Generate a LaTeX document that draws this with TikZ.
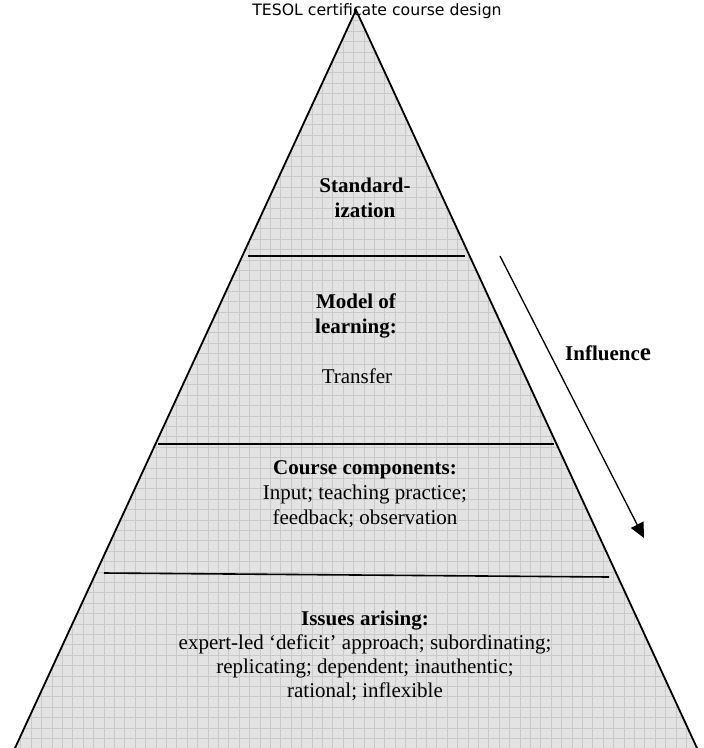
\documentclass[tikz,border=0pt]{standalone}
\usepackage{fontspec}
\setmainfont{Liberation Serif}
\newfontfamily\titlefont{DejaVu Sans}
\usetikzlibrary{arrows.meta}
\definecolor{paper}{HTML}{E3E3E3}
\definecolor{gridline}{HTML}{C9C9C9}

\begin{document}
\begin{tikzpicture}[x=1pt,y=-1pt,
  tier/.style={line width=1.6pt},
  tiertext/.style={font=\fontsize{21}{25}\selectfont,align=center,anchor=base,inner sep=0pt},
  tierhead/.style={tiertext,font=\bfseries\fontsize{21}{25}\selectfont}]
\useasboundingbox (0,0) rectangle (704,748);
\coordinate (apex) at (356,10);
\coordinate (baseleft) at (10.4,758);
\coordinate (baseright) at (701.6,758);
% shaded pyramid with grid
\begin{scope}
  \clip (apex) -- (baseright) -- (baseleft) -- cycle;
  \fill[paper] (0,0) rectangle (704,758);
  \draw[gridline,line width=0.8pt,xstep=10.4pt,ystep=10.4pt] (0,0) grid (704,758);
\end{scope}
\draw[line width=1.8pt] (baseleft) -- (apex) -- (baseright);
% tier lines
\coordinate (t1l) at (248,256); \coordinate (t1r) at (465,256);
\coordinate (t2l) at (158,444); \coordinate (t2r) at (554,444);
\coordinate (t3l) at (104,573); \coordinate (t3r) at (609,577);
\draw[tier] (t1l) -- (t1r);
\draw[tier] (t2l) -- (t2r);
\draw[tier] (t3l) -- (t3r);
% texts (placed at the baseline of their last line)
\node[anchor=base,inner sep=0pt,font=\titlefont\fontsize{15.7}{18}\selectfont] (title) at (377,15) {TESOL certificate course design};
\node[tierhead] (std) at (365,217) {Standard-\\ization};
\node[tierhead] (model) at (356,333) {Model of\\learning:};
\node[tiertext] (transfer) at (357,383) {Transfer};
\node[tiertext] (comp) at (365,524) {\textbf{Course components:}\\Input; teaching practice;\\feedback; observation};
\node[tiertext,font=\fontsize{21}{24}\selectfont] (issues) at (365,697) {\textbf{Issues arising:}\\expert-led `deficit' approach; subordinating;\\replicating; dependent; inauthentic;\\rational; inflexible};
\node[tierhead,anchor=base west] (influence) at (565,360) {Influenc{\fontsize{25}{25}\selectfont e}};
% arrow
\coordinate (flowstart) at (500,256);
\coordinate (flowend) at (644,538);
\draw[line width=1.3pt,-{Triangle[length=15pt,width=14pt]}] (flowstart) -- (flowend);
\end{tikzpicture}
\end{document}
